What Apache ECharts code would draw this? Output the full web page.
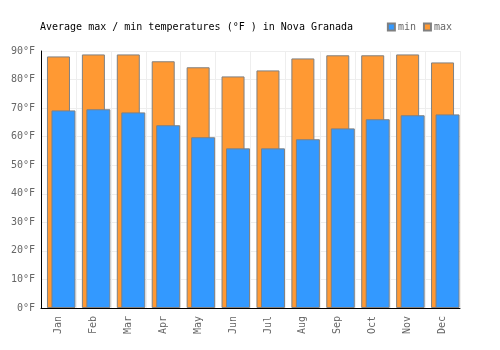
<!DOCTYPE html>
<html>
<head>
<meta charset="utf-8">
<script src="https://cdn.jsdelivr.net/npm/echarts@6/dist/echarts.min.js"></script>
<style>
  html, body { margin: 0; padding: 0; background: #fff; }
  #chart { width: 500px; height: 350px; }
</style>
</head>
<body>
<div id="chart"></div>
<script>
const months = ["Jan", "Feb", "Mar", "Apr", "May", "Jun", "Jul", "Aug", "Sep", "Oct", "Nov", "Dec"];
const maxTemps = [88.1, 88.8, 88.8, 86.4, 84.3, 81.1, 83.2, 87.4, 88.5, 88.5, 88.8, 86.0];
const minTemps = [69.2, 69.6, 68.5, 64.0, 59.8, 55.9, 55.9, 59.1, 62.9, 66.1, 67.5, 67.8];

const FONT = "DejaVu Sans Mono";
const chart = echarts.init(document.getElementById("chart"));

// max bars sit in the main grid, min bars in a second grid nudged right
// so they overlap the way the original does
chart.setOption({
    backgroundColor: "#fff",
    animation: false,
    title: {
        text: "Average max / min temperatures (°F ) in Nova Granada",
        left: 35,
        top: 17,
        textStyle: { fontFamily: FONT, fontSize: 10, fontWeight: "normal", color: "#000" },
    },
    legend: {
        right: 43,
        top: 17,
        itemWidth: 7,
        itemHeight: 7,
        itemGap: 7,
        icon: "rect",
        data: ["min", "max"],
        textStyle: { fontFamily: FONT, fontSize: 10, color: "#666", padding: [0, 0, 0, -2] },
    },
    grid: [
        { left: 41, right: 40, top: 51, bottom: 42 },
        { left: 46, right: 35, top: 51, bottom: 42 },
    ],
    xAxis: [
        {
            type: "category",
            gridIndex: 0,
            data: months,
            axisLine: { lineStyle: { color: "#000", width: 1 } },
            axisTick: { show: false },
            splitLine: { show: true, lineStyle: { color: "#eeeeee" } },
            axisLabel: { rotate: 90, fontFamily: FONT, fontSize: 10, color: "#666", margin: 8 },
        },
        {
            type: "category",
            gridIndex: 1,
            data: months,
            show: false,
        },
    ],
    yAxis: [
        {
            type: "value",
            gridIndex: 0,
            min: 0,
            max: 90,
            interval: 10,
            axisLine: { show: true, lineStyle: { color: "#000", width: 1 } },
            axisTick: { show: false },
            splitLine: { lineStyle: { color: "#eeeeee" } },
            axisLabel: { formatter: "{value}°F", fontFamily: FONT, fontSize: 10, color: "#666", margin: 6 },
        },
        {
            type: "value",
            gridIndex: 1,
            min: 0,
            max: 90,
            interval: 10,
            show: false,
            splitLine: { show: false },
        },
    ],
    series: [
        {
            name: "max",
            type: "bar",
            xAxisIndex: 0,
            yAxisIndex: 0,
            barWidth: 23,
            data: maxTemps,
            itemStyle: { color: "#ff9933", borderColor: "#808080", borderWidth: 1 },
        },
        {
            name: "min",
            type: "bar",
            xAxisIndex: 1,
            yAxisIndex: 1,
            barWidth: 24,
            data: minTemps,
            itemStyle: { color: "#3399ff", borderColor: "#808080", borderWidth: 1 },
        },
    ],
});
</script>
</body>
</html>
